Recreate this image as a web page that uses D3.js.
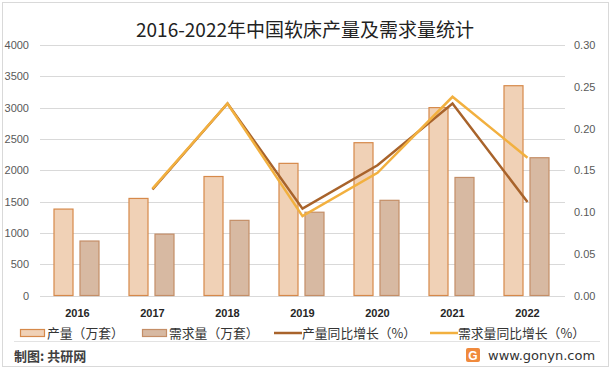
<!DOCTYPE html>
<html>
<head>
<meta charset="utf-8">
<script src="https://cdn.jsdelivr.net/npm/d3@7"></script>
<style>
  body { margin: 0; background: #fff; }
  svg { display: block; }
</style>
</head>
<body>
<svg width="612" height="370"></svg>
<script>
// data
let years = ['2016', '2017', '2018', '2019', '2020', '2021', '2022'];
let production = [1380, 1550, 1900, 2110, 2440, 3000, 3350];
let demand = [870, 980, 1200, 1330, 1520, 1885, 2200];
let productionGrowth = [null, 0.127, 0.23, 0.104, 0.156, 0.23, 0.112];
let demandGrowth = [null, 0.128, 0.23, 0.095, 0.147, 0.238, 0.165];
let leftTicks = [0, 500, 1000, 1500, 2000, 2500, 3000, 3500, 4000];
let rightTicks = [0, 0.05, 0.1, 0.15, 0.2, 0.25, 0.3];

let cjk = '"Noto Sans CJK SC", "Noto Sans", sans-serif';
let latin = '"Liberation Sans", Arial, sans-serif';

let svg = d3.select('svg');

// outer frame
svg.append('rect')
  .attr('x', 2.5).attr('y', 2.5)
  .attr('width', 606).attr('height', 364)
  .attr('fill', '#fff')
  .attr('stroke', '#d9d9d9');

svg.append('text')
  .attr('x', 305).attr('y', 37)
  .attr('text-anchor', 'middle')
  .style('font-family', cjk)
  .style('font-size', '19px')
  .style('fill', '#222')
  .text('2016-2022年中国软床产量及需求量统计');

let x = d3.scaleBand().domain(years).range([40, 565]);
let sub = d3.scaleBand()
  .domain(['p', 'd'])
  .range([x.bandwidth() / 2 - 24, x.bandwidth() / 2 + 22])
  .paddingInner(0.23);
let y = d3.scaleLinear().domain([0, 4000]).range([295.5, 45]);
let y2 = d3.scaleLinear().domain([0, 0.3]).range([295.5, 45]);

let chart = svg.append('g').attr('class', 'chart');

// gridlines
chart.selectAll('line.grid')
  .data(leftTicks)
  .join('line')
  .attr('class', 'grid')
  .attr('x1', 40).attr('x2', 565)
  .attr('y1', d => Math.round(y(d)) + 0.5)
  .attr('y2', d => Math.round(y(d)) + 0.5)
  .attr('stroke', '#d9d9d9')
  .attr('stroke-width', 1);

// left axis labels
chart.selectAll('text.ly')
  .data(leftTicks)
  .join('text')
  .attr('class', 'ly')
  .attr('x', 29)
  .attr('y', d => y(d) + 4)
  .attr('text-anchor', 'end')
  .style('font-family', latin)
  .style('font-size', '11px')
  .style('fill', '#595959')
  .text(d => d);

// right axis labels
chart.selectAll('text.ry')
  .data(rightTicks)
  .join('text')
  .attr('class', 'ry')
  .attr('x', 574)
  .attr('y', d => y2(d) + 4)
  .style('font-family', latin)
  .style('font-size', '11px')
  .style('fill', '#595959')
  .text(d => d3.format('.2f')(d));

// bars
let bars = [];
years.forEach(function(yr, i) {
  bars.push({year: yr, key: 'p', value: production[i]});
  bars.push({year: yr, key: 'd', value: demand[i]});
});

chart.selectAll('rect.bar')
  .data(bars)
  .join('rect')
  .attr('class', 'bar')
  .attr('x', d => x(d.year) + sub(d.key) + 0.5)
  .attr('y', d => y(d.value))
  .attr('width', sub.bandwidth() - 1)
  .attr('height', d => y(0) - y(d.value))
  .attr('fill', d => d.key === 'p' ? '#f0d1b6' : '#d7b9a2')
  .attr('stroke', d => d.key === 'p' ? '#d6894a' : '#c48e67')
  .attr('stroke-width', 1.2);

// lines
let line = d3.line()
  .defined(d => d.v !== null)
  .x(d => x(d.year) + x.bandwidth() / 2)
  .y(d => y2(d.v));

chart.append('path')
  .datum(years.map((yr, i) => ({year: yr, v: productionGrowth[i]})))
  .attr('d', line)
  .attr('fill', 'none')
  .attr('stroke', '#a8632b')
  .attr('stroke-width', 2.5)
  .attr('stroke-linejoin', 'miter');

chart.append('path')
  .datum(years.map((yr, i) => ({year: yr, v: demandGrowth[i]})))
  .attr('d', line)
  .attr('fill', 'none')
  .attr('stroke', '#f2b03f')
  .attr('stroke-width', 2.5)
  .attr('stroke-linejoin', 'miter');

// year labels
chart.selectAll('text.yr')
  .data(years)
  .join('text')
  .attr('class', 'yr')
  .attr('x', d => x(d) + x.bandwidth() / 2)
  .attr('y', 317)
  .attr('text-anchor', 'middle')
  .style('font-family', latin)
  .style('font-size', '11px')
  .style('font-weight', 'bold')
  .style('fill', '#262626')
  .text(d => d);

// legend
let legendItems = [
  {label: '产量（万套）', type: 'rect', fill: '#f0d1b6', stroke: '#d6894a', x: 20},
  {label: '需求量（万套）', type: 'rect', fill: '#d7b9a2', stroke: '#c48e67', x: 142},
  {label: '产量同比增长（%）', type: 'line', stroke: '#a8632b', x: 274},
  {label: '需求量同比增长（%）', type: 'line', stroke: '#f2b03f', x: 430}
];

let legend = svg.append('g').attr('class', 'legend');
legendItems.forEach(function(item) {
  if (item.type === 'rect') {
    legend.append('rect')
      .attr('x', item.x + 0.5).attr('y', 329.5)
      .attr('width', 24).attr('height', 7)
      .attr('fill', item.fill)
      .attr('stroke', item.stroke)
      .attr('stroke-width', 1.2);
  } else {
    legend.append('line')
      .attr('x1', item.x).attr('x2', item.x + 28)
      .attr('y1', 333).attr('y2', 333)
      .attr('stroke', item.stroke)
      .attr('stroke-width', 2.5);
  }
  legend.append('text')
    .attr('x', item.x + (item.type === 'rect' ? 27 : 28))
    .attr('y', 338)
    .style('font-family', cjk)
    .style('font-size', '12.8px')
    .style('fill', '#333')
    .text(item.label);
});

// footer
svg.append('line')
  .attr('x1', 14).attr('x2', 600)
  .attr('y1', 341.5).attr('y2', 341.5)
  .attr('stroke', '#e3e3e3');

svg.append('text')
  .attr('x', 14).attr('y', 361)
  .style('font-family', cjk)
  .style('font-size', '13px')
  .style('font-weight', 'bold')
  .style('fill', '#404040')
  .text('制图: 共研网');

svg.append('rect')
  .attr('x', 466).attr('y', 348)
  .attr('width', 14).attr('height', 14)
  .attr('rx', 2)
  .attr('fill', '#f08a3c');
svg.append('text')
  .attr('x', 473).attr('y', 360)
  .attr('text-anchor', 'middle')
  .style('font-family', latin)
  .style('font-size', '12px')
  .style('font-weight', 'bold')
  .style('fill', '#fff')
  .text('G');

svg.append('text')
  .attr('x', 488).attr('y', 360)
  .style('font-family', '"DejaVu Sans", sans-serif')
  .style('font-size', '13px')
  .style('fill', '#333')
  .text('www.gonyn.com');
</script>
</body>
</html>
